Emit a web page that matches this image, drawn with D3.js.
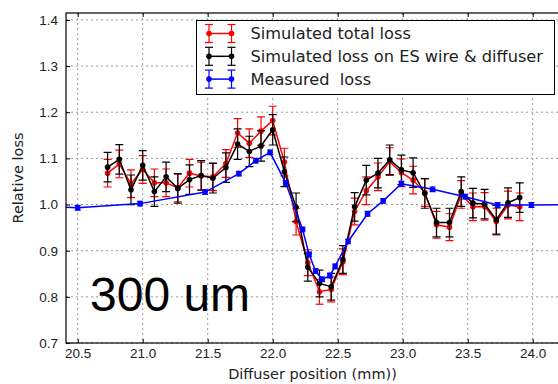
<!DOCTYPE html>
<html>
<head>
<meta charset="utf-8">
<script src="https://cdn.jsdelivr.net/npm/d3@7"></script>
<style>
body { margin: 0; background: #fff; }
svg { display: block; font-family: "DejaVu Sans", sans-serif; }
.axis text { font-size: 13.5px; fill: #222; }
.axis path { display: none; }
.axis line { stroke: #000; stroke-width: 1; }
.grid line { stroke: #999; stroke-width: 1; stroke-dasharray: 2,3; }
.legend text { white-space: pre; }
</style>
</head>
<body>
<svg id="svg1" width="558" height="384"></svg>
<script>
var svgId = "#svg1";

// simulated scan positions (mm)
var simPosition = [20.73, 20.82, 20.91, 21.00, 21.09, 21.18, 21.27, 21.36, 21.45, 21.54,
                   21.64, 21.73, 21.82, 21.91, 22.00, 22.09, 22.18, 22.27, 22.36, 22.45,
                   22.54, 22.63, 22.72, 22.81, 22.90, 22.99, 23.08, 23.17, 23.26, 23.36,
                   23.45, 23.54, 23.63, 23.72, 23.81, 23.90];
// simulated total loss
var simTotal = [1.068, 1.088, 1.045, 1.076, 1.047, 1.047, 1.036, 1.068, 1.062, 1.060,
                1.089, 1.155, 1.133, 1.159, 1.182, 1.092, 0.963, 0.874, 0.811, 0.816,
                0.876, 0.985, 1.030, 1.060, 1.093, 1.069, 1.053, 1.026, 0.956, 0.951,
                1.022, 0.995, 0.996, 0.963, 0.999, 0.995];
var simTotalErr = [0.030, 0.030, 0.030, 0.030, 0.030, 0.030, 0.030, 0.030, 0.030, 0.030,
                   0.030, 0.031, 0.031, 0.031, 0.031, 0.030, 0.029, 0.028, 0.027, 0.027,
                   0.028, 0.029, 0.030, 0.030, 0.030, 0.030, 0.030, 0.030, 0.029, 0.029,
                   0.030, 0.030, 0.030, 0.029, 0.030, 0.030];
// simulated loss on ES wire & diffuser
var simWire = [1.081, 1.098, 1.032, 1.085, 1.028, 1.060, 1.035, 1.054, 1.063, 1.057,
               1.080, 1.131, 1.115, 1.127, 1.162, 1.071, 0.994, 0.864, 0.829, 0.822,
               0.881, 0.995, 1.053, 1.068, 1.097, 1.075, 1.069, 1.024, 0.961, 0.961,
               1.028, 1.003, 1.001, 0.967, 1.004, 1.015];
var simWireErr = [0.032, 0.032, 0.032, 0.032, 0.032, 0.032, 0.032, 0.032, 0.032, 0.032,
                  0.032, 0.033, 0.033, 0.033, 0.033, 0.032, 0.031, 0.030, 0.029, 0.029,
                  0.030, 0.031, 0.032, 0.032, 0.032, 0.032, 0.032, 0.032, 0.031, 0.031,
                  0.032, 0.032, 0.032, 0.031, 0.032, 0.032];
// measured loss
var measPosition = [20.30, 20.50, 20.98, 21.48, 21.74, 21.87, 21.98, 22.10, 22.23, 22.28,
                    22.33, 22.38, 22.44, 22.48, 22.58, 22.73, 22.85, 22.99, 23.23, 23.48,
                    23.73, 23.99, 24.30];
var measLoss = [0.995, 0.993, 1.002, 1.027, 1.067, 1.095, 1.113, 1.047, 0.946, 0.892,
                0.856, 0.838, 0.846, 0.866, 0.920, 0.980, 1.008, 1.045, 1.033, 1.017,
                0.999, 0.999, 1.000];
var measErr = [0.005, 0.005, 0.005, 0.005, 0.005, 0.005, 0.005, 0.005, 0.005, 0.005,
               0.005, 0.005, 0.005, 0.005, 0.005, 0.005, 0.005, 0.005, 0.005, 0.005,
               0.005, 0.005, 0.005];

var xTicks = [20.5, 21.0, 21.5, 22.0, 22.5, 23.0, 23.5, 24.0];
var yTicks = [0.7, 0.8, 0.9, 1.0, 1.1, 1.2, 1.3, 1.4];
var seriesNames = ["Simulated total loss", "Simulated loss on ES wire & diffuser", "Measured  loss"];
var seriesColors = ["#ff0000", "#000000", "#0000ff"];

var scale;
var axis;

var params = {
  "svg": { "width": 558, "height": 384 },
  "plot": { "x": 66, "y": 13, "width": 492.7, "height": 330 }
};

translate = function(x, y) {
  return "translate(" + x + "," + y + ")";
}

loadScaleAndAxis = function() {
  scale = {
    "x": d3.scaleLinear().domain([20.41, 24.2]).range([0, params.plot.width]),
    "y": d3.scaleLinear().domain([0.7, 1.415]).range([params.plot.height, 0])
  };

  axis = {
    "x": d3.axisBottom(scale.x).tickValues(xTicks).tickFormat(d3.format(".1f")).tickSize(-4).tickPadding(5),
    "y": d3.axisLeft(scale.y).tickValues(yTicks).tickFormat(d3.format(".1f")).tickSize(-4).tickPadding(8),
    "top": d3.axisTop(scale.x).tickValues(xTicks).tickFormat("").tickSize(-4)
  };
}

createPlot = function(id) {
  let svg = d3.select(id);

  let plot = svg.append("g");
  plot.attr("id", "plot1");
  plot.attr("transform", translate(params.plot.x, params.plot.y));

  svg.append("clipPath").attr("id", "clip1")
    .append("rect")
    .attr("x", 0).attr("y", 0)
    .attr("width", params.plot.width).attr("height", params.plot.height);

  // dotted grid
  let grid = plot.append("g").attr("class", "grid");
  grid.selectAll("line.gx").data(xTicks).enter().append("line")
    .attr("x1", d => scale.x(d)).attr("x2", d => scale.x(d))
    .attr("y1", 0).attr("y2", params.plot.height);
  grid.selectAll("line.gy").data(yTicks).enter().append("line")
    .attr("x1", 0).attr("x2", params.plot.width)
    .attr("y1", d => scale.y(d)).attr("y2", d => scale.y(d));

  let gx = plot.append("g").attr("class", "axis")
    .attr("transform", translate(0, params.plot.height));
  gx.call(axis.x);

  let gy = plot.append("g").attr("class", "axis");
  gy.call(axis.y);

  let gt = plot.append("g").attr("class", "axis");
  gt.call(axis.top);

  return plot;
}

drawSeries = function(plot, xs, ys, errs, color, capHalf) {
  let data = xs.map(function(x, i) { return { "x": x, "y": ys[i], "e": errs[i] }; });
  let g = plot.append("g").attr("clip-path", "url(#clip1)");

  let line = d3.line().x(d => scale.x(d.x)).y(d => scale.y(d.y));
  g.append("path").datum(data)
    .attr("d", line)
    .attr("fill", "none")
    .attr("stroke", color)
    .attr("stroke-width", 1.5);

  // error bars with caps
  let bars = g.selectAll("g.bar").data(data).enter().append("g").attr("class", "bar");
  bars.append("line")
    .attr("x1", d => scale.x(d.x)).attr("x2", d => scale.x(d.x))
    .attr("y1", d => scale.y(d.y - d.e)).attr("y2", d => scale.y(d.y + d.e))
    .attr("stroke", color).attr("stroke-width", 1.2);
  [-1, 1].forEach(function(s) {
    bars.append("line")
      .attr("x1", d => scale.x(d.x) - capHalf).attr("x2", d => scale.x(d.x) + capHalf)
      .attr("y1", d => scale.y(d.y + s * d.e)).attr("y2", d => scale.y(d.y + s * d.e))
      .attr("stroke", color).attr("stroke-width", 1.2);
  });

  g.selectAll("circle").data(data).enter().append("circle")
    .attr("cx", d => scale.x(d.x))
    .attr("cy", d => scale.y(d.y))
    .attr("r", 2.8)
    .attr("fill", color);
}

createLegend = function(svg) {
  let lg = svg.append("g").attr("class", "legend").attr("transform", translate(196.5, 20.5));
  lg.append("rect")
    .attr("width", 358).attr("height", 74)
    .attr("fill", "#fff").attr("stroke", "#000").attr("stroke-width", 1);

  let rows = lg.selectAll("g.entry").data(seriesNames).enter().append("g")
    .attr("transform", (d, i) => translate(0, 13 + i * 22.8));

  rows.append("line")
    .attr("x1", 12.5).attr("x2", 35)
    .attr("stroke", (d, i) => seriesColors[i]).attr("stroke-width", 1.5);

  [12.5, 35].forEach(function(px) {
    rows.append("line")
      .attr("x1", px).attr("x2", px).attr("y1", -9).attr("y2", 9)
      .attr("stroke", (d, i) => seriesColors[i]).attr("stroke-width", 1.2);
    [-9, 9].forEach(function(py) {
      rows.append("line")
        .attr("x1", px - 4).attr("x2", px + 4).attr("y1", py).attr("y2", py)
        .attr("stroke", (d, i) => seriesColors[i]).attr("stroke-width", 1.2);
    });
    rows.append("circle")
      .attr("cx", px).attr("cy", 0).attr("r", 2.8)
      .attr("fill", (d, i) => seriesColors[i]);
  });

  rows.append("text")
    .attr("x", 54).attr("y", 5.8)
    .attr("font-size", "16.2px")
    .attr("fill", "#222")
    .text(d => d);
}

loadScaleAndAxis();
let plot = createPlot(svgId);
drawSeries(plot, simPosition, simTotal, simTotalErr, seriesColors[0], 4);
drawSeries(plot, simPosition, simWire, simWireErr, seriesColors[1], 4);
drawSeries(plot, measPosition, measLoss, measErr, seriesColors[2], 3);

let svg = d3.select(svgId);

// frame (right side falls outside the picture)
plot.append("rect")
  .attr("width", params.plot.width).attr("height", params.plot.height)
  .attr("fill", "none").attr("stroke", "#000").attr("stroke-width", 1.2);

createLegend(svg);

svg.append("text")
  .attr("transform", translate(23, 178) + " rotate(-90)")
  .attr("text-anchor", "middle")
  .attr("font-size", "14.5px")
  .attr("fill", "#222")
  .text("Relative loss");

svg.append("text")
  .attr("x", 312.5).attr("y", 379)
  .attr("text-anchor", "middle")
  .attr("font-size", "14.5px")
  .attr("fill", "#222")
  .text("Diffuser position (mm))");

svg.append("text")
  .attr("x", 90).attr("y", 311)
  .attr("font-family", "'Liberation Sans', Arial, sans-serif")
  .attr("font-size", "48px")
  .attr("fill", "#000")
  .text("300 um");
</script>
</body>
</html>
